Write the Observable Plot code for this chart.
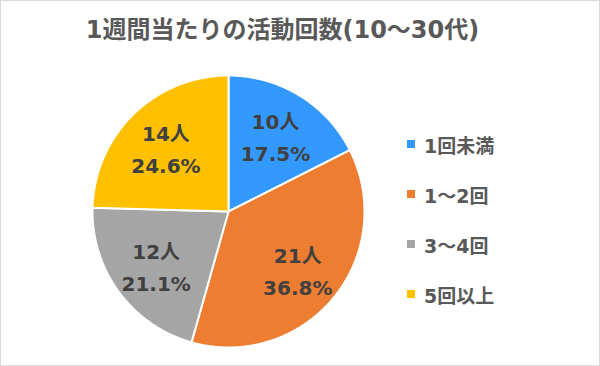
<!DOCTYPE html>
<html><head><meta charset="utf-8">
<script src="https://cdn.jsdelivr.net/npm/d3@7"></script>
<script src="https://cdn.jsdelivr.net/npm/@observablehq/plot@0.6"></script>
<style>
html,body{margin:0;padding:0;background:#fff;}
#wrap{position:relative;width:598px;height:364px;border:1px solid #D9D9D9;overflow:hidden;font-family:"DejaVu Sans","Noto Sans CJK JP",sans-serif;background:#fff;}
#legend{position:absolute;left:406px;top:133px;}
.item{display:flex;align-items:center;height:20px;margin-bottom:30px;font-size:19px;font-weight:bold;color:#595959;white-space:nowrap;}
.sw{width:8px;height:8px;margin-right:9px;flex:none;}
</style></head><body><div id="wrap"></div>
<script>
const title = "1週間当たりの活動回数(10～30代)";
const categories = ["1回未満", "1～2回", "3～4回", "5回以上"];
const counts = [10, 21, 12, 14];
const percents = ["17.5%", "36.8%", "21.1%", "24.6%"];
const colors = ["#3399FF", "#ED7D31", "#A5A5A5", "#FFC000"];

const data = categories.map((c, i) => ({category: c, count: counts[i], pct: percents[i]}));
const arcs = d3.pie().sort(null).value(d => d.count)(data);

// slice outlines (unit circle, clockwise from 12 o'clock)
const poly = [];
arcs.forEach(a => {
  poly.push({category: a.data.category, x: 0, y: 0});
  const n = Math.max(2, Math.ceil((a.endAngle - a.startAngle) / 0.01));
  for (let k = 0; k <= n; k++) {
    const t = a.startAngle + (a.endAngle - a.startAngle) * k / n;
    poly.push({category: a.data.category, x: Math.sin(t), y: Math.cos(t)});
  }
});

const labelR = 0.66;
const labels = arcs.map(a => {
  const m = (a.startAngle + a.endAngle) / 2;
  return {x: labelR * Math.sin(m), y: labelR * Math.cos(m), text: `${a.data.count}人\n${a.data.pct}`};
});

const cx = 227, cy = 210, R = 136;
const chart = Plot.plot({
  width: 598, height: 364,
  margin: 0,
  style: {fontFamily: "'DejaVu Sans', 'Noto Sans CJK JP', sans-serif", background: "#fff"},
  x: {domain: [-1, 1], range: [cx - R, cx + R], axis: null},
  y: {domain: [-1, 1], range: [cy + R, cy - R], axis: null},
  color: {domain: categories, range: colors},
  marks: [
    Plot.line(poly, {x: "x", y: "y", z: "category", fill: "category", stroke: "white", strokeWidth: 2, strokeLinejoin: "round", curve: "linear-closed"}),
    Plot.text(labels, {x: "x", y: "y", text: "text", fill: "#404040", fontSize: 20, fontWeight: "bold", lineHeight: 1.6}),
    Plot.text([title], {frameAnchor: "top", dx: -18, dy: 29, lineAnchor: "middle", fontSize: 24, fontWeight: "bold", fill: "#595959"})
  ]
});
const wrap = document.getElementById("wrap");
wrap.appendChild(chart);

const cs = chart.scale("color");
const leg = document.createElement("div");
leg.id = "legend";
cs.domain.forEach((c, i) => {
  const it = document.createElement("div");
  it.className = "item";
  const sw = document.createElement("span");
  sw.className = "sw";
  sw.style.background = cs.range[i];
  const tx = document.createElement("span");
  tx.textContent = c;
  it.appendChild(sw); it.appendChild(tx);
  leg.appendChild(it);
});
wrap.appendChild(leg);
</script></body></html>
